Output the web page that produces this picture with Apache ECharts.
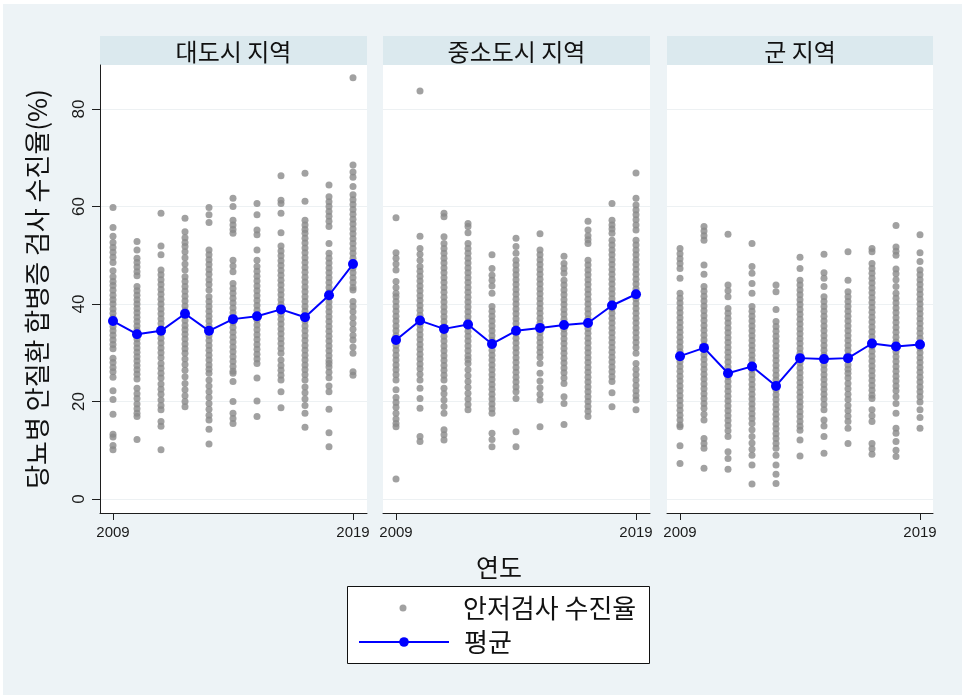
<!DOCTYPE html>
<html>
<head>
<meta charset="utf-8">
<script src="https://cdn.jsdelivr.net/npm/echarts@6/dist/echarts.min.js"></script>
<style>
  html, body { margin: 0; padding: 0; background: #ffffff; }
  #chart { width: 962px; height: 695px; }
</style>
</head>
<body>
<div id="chart"></div>
<script>
// Years on the x axis
const years = [2009, 2010, 2011, 2012, 2013, 2014, 2015, 2016, 2017, 2018, 2019];
const xTickValues = [2009, 2019];
const yTickValues = [0, 20, 40, 60, 80];
const panelTitles = ['대도시 지역', '중소도시 지역', '군 지역'];

// Regional screening rates (%) per year, metropolitan areas
const metroRates = [
  [59.8, 55.7, 53.9, 52.6, 51.6, 50.6, 49.6, 48.5, 46.8, 45.6, 44.6, 43.8, 42.8, 41.8, 40.9, 40.0, 39.0, 38.1, 37.2, 36.3, 35.4, 34.5, 33.6, 32.6, 31.7, 30.8, 28.9, 28.0, 27.0, 26.1, 25.0, 22.2, 20.4, 17.4, 13.3, 12.7, 11.0, 10.1],
  [52.8, 51.1, 49.4, 48.5, 47.6, 46.6, 45.8, 43.6, 42.7, 41.8, 40.9, 40.0, 39.1, 38.2, 37.3, 36.4, 35.5, 34.6, 33.7, 32.8, 31.9, 31.0, 30.1, 29.2, 28.3, 27.4, 26.5, 25.6, 24.6, 22.7, 21.6, 20.6, 19.5, 18.5, 17.6, 16.9, 12.2],
  [58.6, 51.9, 50.1, 47.0, 46.0, 45.0, 44.0, 43.0, 42.0, 41.0, 40.0, 39.0, 38.0, 37.0, 36.0, 35.0, 34.0, 33.0, 32.0, 31.0, 30.0, 29.0, 27.8, 26.8, 25.8, 24.8, 23.6, 22.5, 21.5, 20.3, 19.2, 18.3, 15.9, 14.9, 10.1],
  [57.6, 54.8, 53.6, 52.6, 51.8, 50.7, 49.5, 48.2, 47.0, 45.6, 44.6, 43.6, 42.6, 41.6, 40.6, 39.6, 38.6, 37.6, 36.6, 35.6, 34.7, 33.8, 32.8, 31.8, 30.8, 29.9, 28.7, 27.6, 26.4, 25.1, 23.7, 22.4, 21.2, 20.0, 18.9],
  [59.8, 58.3, 56.7, 51.1, 50.1, 49.1, 48.1, 47.1, 46.1, 45.0, 44.0, 42.9, 41.5, 40.5, 39.5, 38.5, 37.5, 36.5, 35.5, 34.5, 33.5, 32.5, 31.5, 30.5, 29.5, 28.5, 27.5, 26.6, 25.8, 24.4, 23.2, 22.0, 20.8, 19.6, 18.4, 17.2, 16.2, 14.3, 11.3],
  [61.7, 60.0, 57.2, 56.2, 55.3, 54.5, 49.0, 47.8, 46.6, 44.2, 43.2, 42.2, 41.2, 40.2, 39.2, 38.2, 37.2, 36.2, 35.2, 34.2, 33.2, 32.2, 31.2, 30.2, 29.2, 28.2, 27.2, 26.2, 25.8, 24.1, 20.0, 17.6, 16.5, 15.5],
  [60.6, 58.3, 55.2, 54.2, 51.1, 49.0, 47.7, 46.7, 45.7, 44.7, 43.7, 42.7, 41.7, 40.7, 39.7, 38.7, 37.7, 36.7, 35.7, 34.7, 33.7, 32.7, 31.7, 30.7, 29.7, 28.7, 27.8, 24.8, 20.1, 16.9],
  [66.3, 61.3, 60.6, 58.6, 54.6, 51.9, 50.9, 49.9, 48.9, 47.9, 46.9, 45.9, 44.9, 43.9, 42.9, 41.9, 40.9, 39.9, 38.9, 37.9, 36.9, 35.9, 34.9, 33.9, 32.9, 31.9, 30.9, 29.9, 28.5, 27.4, 26.4, 25.4, 24.4, 22.0, 18.7],
  [66.8, 61.1, 57.2, 56.2, 55.3, 54.5, 53.5, 52.5, 51.5, 50.5, 49.5, 48.5, 47.5, 46.5, 45.5, 44.5, 43.5, 42.5, 41.5, 40.5, 39.5, 38.5, 37.5, 36.5, 35.5, 34.5, 33.5, 32.5, 31.5, 30.5, 29.5, 28.5, 27.5, 26.5, 25.5, 24.4, 23.0, 21.8, 20.5, 19.2, 17.6, 14.7],
  [64.4, 62.0, 61.0, 60.0, 59.0, 58.0, 57.0, 55.9, 52.4, 50.4, 49.4, 48.4, 47.4, 46.4, 45.4, 44.4, 43.4, 42.4, 41.4, 40.4, 39.4, 38.4, 37.4, 36.4, 35.4, 34.4, 33.4, 32.4, 31.4, 30.4, 29.4, 28.4, 27.8, 27.1, 26.0, 24.9, 23.2, 22.0, 18.4, 13.6, 10.7],
  [86.4, 68.5, 67.1, 66.0, 64.1, 62.4, 61.4, 60.4, 59.4, 58.4, 57.4, 56.4, 55.4, 54.4, 53.4, 52.4, 51.4, 50.4, 49.4, 48.4, 47.4, 46.4, 45.4, 44.4, 43.4, 42.9, 40.5, 39.5, 38.4, 37.2, 36.0, 34.8, 33.6, 32.6, 31.2, 29.9, 26.1, 25.4]
];

// Small and mid-sized cities
const cityRates = [
  [57.7, 50.5, 49.4, 48.2, 47.0, 44.6, 43.4, 42.2, 41.5, 40.5, 39.5, 38.5, 37.5, 36.5, 35.5, 34.5, 33.5, 32.5, 31.5, 30.5, 29.5, 28.5, 27.5, 26.5, 25.5, 24.4, 22.4, 20.8, 19.8, 18.8, 17.6, 16.4, 15.5, 14.8, 4.1],
  [83.7, 53.9, 51.4, 50.2, 49.0, 47.7, 46.7, 45.7, 44.7, 43.7, 42.7, 41.7, 40.7, 39.7, 38.7, 37.7, 36.7, 35.7, 34.7, 33.7, 32.7, 31.7, 30.7, 29.7, 28.7, 27.7, 26.7, 25.6, 24.4, 22.7, 20.6, 18.6, 12.8, 11.8],
  [58.6, 57.9, 53.8, 52.4, 51.4, 50.4, 49.4, 48.4, 47.4, 46.4, 45.4, 44.4, 43.4, 42.4, 41.4, 40.4, 39.4, 38.4, 37.4, 36.4, 35.4, 34.4, 33.4, 32.4, 31.4, 30.4, 29.4, 28.4, 27.4, 26.4, 25.4, 24.4, 22.7, 21.6, 20.3, 19.0, 17.6, 14.2, 13.2, 12.1],
  [56.5, 55.9, 54.6, 52.4, 51.4, 50.4, 49.4, 48.4, 47.4, 46.4, 45.4, 44.4, 43.4, 42.4, 41.4, 40.4, 39.4, 38.4, 37.4, 36.4, 35.4, 34.4, 33.4, 32.4, 31.4, 30.4, 29.4, 28.6, 27.8, 26.5, 25.3, 24.1, 22.9, 21.7, 20.5, 19.4, 18.3],
  [50.1, 47.3, 45.9, 44.9, 43.7, 42.2, 39.5, 38.5, 37.5, 36.5, 35.5, 34.5, 33.5, 32.5, 31.5, 30.5, 29.5, 28.5, 27.5, 26.5, 25.5, 24.5, 23.5, 22.5, 21.5, 20.5, 19.5, 18.5, 17.6, 13.5, 12.2, 10.7],
  [53.5, 51.8, 50.4, 49.0, 48.0, 47.0, 46.0, 45.0, 44.0, 43.0, 42.0, 41.0, 40.0, 39.0, 38.0, 37.0, 36.0, 35.0, 34.0, 33.0, 32.0, 31.0, 30.0, 29.0, 28.0, 27.0, 26.0, 25.0, 24.0, 23.0, 22.0, 20.6, 13.8, 10.7],
  [54.4, 51.1, 50.1, 49.1, 48.1, 47.1, 46.1, 45.1, 44.1, 43.1, 42.1, 41.1, 40.1, 39.1, 38.1, 37.1, 36.1, 35.1, 34.1, 33.1, 32.1, 31.1, 30.1, 29.1, 27.8, 25.8, 24.2, 22.8, 21.5, 20.3, 14.8],
  [49.8, 48.3, 47.3, 46.3, 44.9, 43.9, 42.9, 41.9, 40.9, 39.9, 38.9, 37.9, 36.9, 35.9, 34.9, 33.9, 32.9, 31.9, 30.9, 29.9, 28.9, 27.9, 26.9, 25.9, 24.8, 23.7, 21.0, 19.6, 15.3],
  [57.0, 55.2, 54.0, 53.2, 52.4, 49.0, 48.0, 47.0, 46.0, 45.0, 44.0, 43.0, 42.0, 41.0, 40.0, 39.0, 38.0, 37.0, 36.0, 35.0, 34.0, 33.0, 32.0, 31.0, 30.0, 29.0, 28.0, 27.0, 26.0, 25.0, 24.0, 23.0, 22.0, 21.0, 20.0, 19.0, 18.0, 16.9],
  [60.6, 57.2, 56.2, 55.4, 54.5, 53.1, 52.1, 51.1, 50.1, 49.1, 48.1, 47.1, 46.1, 45.1, 44.1, 43.1, 42.1, 41.1, 40.1, 39.1, 38.1, 37.1, 36.1, 35.1, 34.1, 33.1, 32.1, 31.1, 30.1, 29.1, 28.1, 27.1, 26.1, 25.1, 24.1, 21.8, 18.9],
  [66.9, 61.7, 60.3, 59.3, 58.3, 57.3, 56.2, 55.2, 53.1, 52.1, 51.1, 50.1, 49.1, 48.1, 47.1, 46.1, 45.1, 44.1, 43.1, 42.1, 41.1, 40.1, 39.1, 38.1, 37.1, 36.1, 35.1, 34.1, 33.1, 32.1, 31.1, 29.9, 27.8, 26.6, 25.5, 24.4, 23.3, 22.2, 21.2, 20.3, 18.3]
];

// Rural counties
const countyRates = [
  [51.4, 50.3, 49.3, 48.3, 47.3, 45.3, 42.2, 41.2, 40.2, 39.2, 38.2, 37.2, 36.2, 35.2, 34.2, 33.2, 32.2, 31.2, 30.2, 29.2, 28.2, 27.2, 26.2, 25.2, 24.2, 23.2, 22.2, 21.2, 20.2, 19.2, 18.2, 17.2, 16.2, 15.2, 14.8, 10.9, 7.3],
  [55.9, 55.0, 54.0, 53.1, 48.0, 46.1, 43.6, 42.6, 41.6, 40.6, 39.6, 38.6, 37.6, 36.6, 35.6, 34.6, 33.6, 32.6, 31.6, 30.6, 29.6, 28.6, 27.6, 26.6, 25.6, 24.6, 23.6, 22.6, 21.6, 20.6, 19.6, 18.6, 17.4, 16.2, 12.4, 11.4, 10.4, 6.3],
  [54.3, 43.9, 42.7, 41.5, 39.1, 38.1, 37.1, 36.1, 35.1, 34.1, 33.1, 32.1, 31.1, 30.1, 29.1, 28.1, 27.1, 26.1, 25.1, 24.1, 23.1, 22.1, 21.1, 20.1, 19.1, 18.1, 17.1, 16.1, 15.1, 14.0, 12.8, 9.7, 8.3, 6.1],
  [52.4, 47.7, 46.3, 44.2, 42.2, 39.5, 38.5, 37.5, 36.5, 35.5, 34.5, 33.5, 32.5, 31.5, 30.5, 29.5, 28.5, 27.5, 26.5, 25.5, 24.5, 23.5, 22.5, 21.5, 20.5, 19.5, 18.5, 17.5, 16.5, 15.5, 14.2, 12.8, 11.5, 10.2, 9.0, 7.0, 3.1],
  [43.9, 42.5, 38.9, 36.4, 35.4, 34.4, 33.4, 32.4, 31.4, 30.4, 29.4, 28.4, 27.4, 26.4, 25.4, 24.4, 23.4, 22.4, 21.4, 20.4, 19.4, 18.4, 17.4, 16.4, 15.4, 14.4, 13.4, 12.4, 11.4, 10.4, 9.0, 7.0, 5.1, 3.2],
  [49.6, 47.3, 44.9, 43.9, 42.9, 41.9, 40.9, 39.9, 38.9, 37.9, 36.9, 35.9, 34.9, 33.9, 32.9, 31.9, 30.9, 29.9, 28.9, 27.9, 26.9, 25.9, 24.9, 23.9, 22.9, 21.9, 20.9, 19.9, 18.9, 17.9, 16.9, 15.9, 14.9, 14.1, 12.1, 8.8],
  [50.2, 46.4, 45.3, 43.6, 41.5, 40.5, 39.5, 38.5, 37.5, 36.5, 35.5, 34.5, 33.5, 32.5, 31.5, 30.5, 29.5, 28.5, 27.5, 26.5, 25.5, 24.5, 23.5, 22.5, 21.5, 20.5, 19.4, 18.3, 16.2, 15.0, 12.8, 9.4],
  [50.7, 44.9, 42.5, 41.5, 40.5, 39.5, 38.5, 37.5, 36.5, 35.5, 34.5, 33.5, 32.5, 31.5, 30.5, 29.5, 28.5, 27.5, 26.6, 25.8, 24.8, 23.7, 22.6, 21.5, 20.4, 19.2, 18.1, 17.0, 15.9, 14.5, 11.4],
  [51.4, 50.7, 48.3, 47.3, 46.3, 45.3, 44.3, 43.3, 42.3, 41.3, 40.3, 39.3, 38.3, 37.3, 36.3, 35.3, 34.3, 33.3, 32.3, 31.3, 30.3, 29.3, 28.3, 27.3, 26.3, 25.3, 24.3, 23.3, 22.3, 21.3, 20.6, 18.3, 17.1, 15.9, 11.4, 10.3, 9.2],
  [56.1, 51.7, 50.8, 50.0, 47.2, 46.2, 45.0, 43.6, 42.2, 41.2, 40.2, 39.2, 38.2, 37.2, 36.2, 35.2, 34.2, 33.2, 32.2, 31.2, 30.2, 29.2, 28.2, 27.2, 26.2, 25.2, 24.2, 23.2, 22.2, 21.0, 19.6, 17.6, 14.5, 13.5, 11.8, 10.0, 8.7],
  [54.2, 50.5, 48.7, 47.0, 46.0, 45.0, 44.0, 43.0, 42.0, 41.0, 40.0, 39.0, 38.0, 37.0, 36.0, 35.0, 34.0, 33.0, 32.0, 31.0, 30.0, 29.0, 28.0, 27.0, 26.0, 25.0, 24.0, 23.0, 22.0, 21.0, 19.9, 18.3, 16.7, 14.5]
];

// Yearly means per region type
const metroMean  = [36.5, 33.8, 34.5, 38.0, 34.5, 36.9, 37.5, 38.9, 37.3, 41.8, 48.2];
const cityMean   = [32.6, 36.6, 34.9, 35.8, 31.8, 34.5, 35.1, 35.7, 36.1, 39.7, 42.0];
const countyMean = [29.3, 31.0, 25.8, 27.2, 23.2, 28.9, 28.7, 28.9, 31.9, 31.3, 31.7];

const panelRates = [metroRates, cityRates, countyRates];
const panelMeans = [metroMean, cityMean, countyMean];

// Layout of the three panels
const KR = '"Noto Sans CJK KR", "Noto Sans", sans-serif';
const NUM = '"Liberation Sans", Arial, sans-serif';
const panelLeft = [100, 383, 667];
const panelWidth = [267, 267, 266];
const plotTop = 65;
const plotHeight = 448;
const stripTop = 36;
const stripHeight = 29;
const axisColor = '#1e1e1e';
const gridColor = '#edf1f3';

const grids = [], xAxes = [], yAxes = [], series = [], graphics = [];

graphics.push({
  type: 'rect', z: -100,
  shape: { x: 3, y: 4, width: 959, height: 691 },
  style: { fill: '#edf3f6' }
});

panelRates.forEach((rates, i) => {
  grids.push({
    left: panelLeft[i], top: plotTop, width: panelWidth[i], height: plotHeight,
    show: true, backgroundColor: '#ffffff', borderWidth: 0
  });
  xAxes.push({
    type: 'value', gridIndex: i,
    min: 2008.458, max: 2009 + (panelWidth[i] - 13) / 24,
    axisLine: { show: true, onZero: false, lineStyle: { color: axisColor, width: 1 } },
    axisTick: { show: true, customValues: xTickValues, length: 7, lineStyle: { color: axisColor } },
    axisLabel: {
      show: true, customValues: xTickValues, fontSize: 15, fontFamily: NUM, color: '#1a1a1a', margin: 12,
      formatter: v => String(v)
    },
    splitLine: { show: false }
  });
  const first = i === 0;
  yAxes.push({
    type: 'value', gridIndex: i,
    min: -2.87, max: 89.03,
    name: first ? '당뇨병 안질환 합병증 검사 수진율(%)' : '',
    nameLocation: 'middle', nameRotate: 90, nameGap: 50,
    nameTextStyle: { fontSize: 26, fontFamily: KR, color: '#111' },
    axisLine: { show: first, onZero: false, lineStyle: { color: axisColor, width: 1 } },
    axisTick: { show: first, customValues: yTickValues, length: 8, lineStyle: { color: axisColor } },
    axisLabel: { show: first, customValues: yTickValues, rotate: 90, fontSize: 17, fontFamily: NUM, color: '#1a1a1a', margin: 12 },
    splitLine: { show: true, lineStyle: { color: gridColor, width: 1 } }
  });

  const points = [];
  rates.forEach((col, j) => col.forEach(v => points.push([years[j], v])));
  series.push({
    type: 'scatter', name: '안저검사 수진율',
    xAxisIndex: i, yAxisIndex: i,
    data: points, symbol: 'circle', symbolSize: 7,
    itemStyle: { color: '#898989' },
    silent: true, z: 2
  });
  series.push({
    type: 'line', name: '평균',
    xAxisIndex: i, yAxisIndex: i,
    data: years.map((y, j) => [y, panelMeans[i][j]]),
    symbol: 'circle', symbolSize: 10,
    itemStyle: { color: '#0000ff' },
    lineStyle: { color: '#0000ff', width: 2 },
    silent: true, z: 3
  });

  graphics.push({
    type: 'rect',
    shape: { x: panelLeft[i], y: stripTop, width: panelWidth[i], height: stripHeight },
    style: { fill: '#dbe9ee' }
  });
  graphics.push({
    type: 'text',
    x: panelLeft[i] + panelWidth[i] / 2, y: stripTop + stripHeight / 2 + 1,
    style: { text: panelTitles[i], font: '24px ' + KR, fill: '#111', align: 'center', verticalAlign: 'middle' }
  });
});

// x axis title and legend frame
graphics.push({
  type: 'text', x: 499, y: 567,
  style: { text: '연도', font: '25px ' + KR, fill: '#111', align: 'center', verticalAlign: 'middle' }
});
graphics.push({
  type: 'rect',
  shape: { x: 347.5, y: 586.5, width: 302, height: 77 },
  style: { fill: '#ffffff', stroke: '#111', lineWidth: 1 }
});

const legendText = { fontSize: 26, fontFamily: KR, color: '#111', lineHeight: 26, padding: [0, 0, 0, 10] };

const chart = echarts.init(document.getElementById('chart'), null, { renderer: 'canvas' });
chart.setOption({
  backgroundColor: '#ffffff',
  animation: false,
  grid: grids,
  xAxis: xAxes,
  yAxis: yAxes,
  series: series,
  graphic: graphics,
  legend: [
    {
      // the circle icon sits in the middle of the 90px icon slot, so the box is laid out from the dot
      data: [{ name: '안저검사 수진율', icon: 'circle' }],
      left: 399.5, top: 595, padding: 0,
      itemWidth: 90, itemHeight: 7,
      textStyle: legendText, selectedMode: false, z: 10
    },
    {
      data: ['평균'],
      left: 358, top: 629, padding: 0,
      itemWidth: 90, itemHeight: 12,
      textStyle: legendText, selectedMode: false, z: 10
    }
  ]
});
</script>
</body>
</html>
